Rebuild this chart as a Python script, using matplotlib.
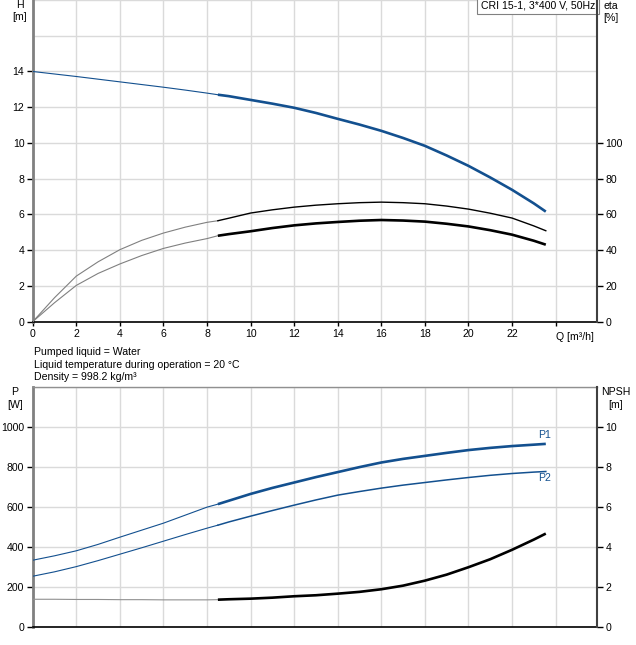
"""
Pump performance curves: CRI 15-1, 3*400 V, 50Hz
"""
import numpy as np
import matplotlib.pyplot as plt
from matplotlib.ticker import MultipleLocator, FixedLocator

################################################################################
# Data
################################################################################
Q_SPLIT     = 8.5       # thin curve below, thick curve above

q_h         = [0, 1, 2, 3, 4, 5, 6, 7, 8, 8.5, 9, 10, 11, 12, 13, 14, 15, 16,
               17, 18, 19, 20, 21, 22, 23, 23.55]
head        = [14.0, 13.86, 13.72, 13.57, 13.42, 13.27, 13.12, 12.96, 12.79,
               12.7, 12.62, 12.41, 12.2, 11.97, 11.68, 11.35, 11.03, 10.68,
               10.28, 9.84, 9.3, 8.72, 8.07, 7.38, 6.62, 6.16]

q_eta       = [0, 1, 2, 3, 4, 5, 6, 7, 8, 8.5, 9, 10, 11, 12, 13, 14, 15, 16,
               17, 18, 19, 20, 21, 22, 23, 23.55]
eta_pump    = [0, 13.4, 25.5, 33.5, 40.3, 45.5, 49.6, 52.9, 55.6, 56.5, 57.9,
               60.8, 62.6, 64.1, 65.2, 66.0, 66.6, 66.9, 66.6, 66.0, 64.7,
               63.0, 60.7, 58.0, 53.6, 50.9]
eta_total   = [0, 10.6, 20.3, 27.0, 32.3, 37.0, 41.0, 44.0, 46.5, 48.1, 49.0,
               50.6, 52.4, 53.9, 55.0, 55.8, 56.5, 56.9, 56.6, 56.0, 54.8,
               53.3, 51.2, 48.7, 45.3, 43.1]

q_p         = [0, 1, 2, 3, 4, 5, 6, 7, 8, 8.5, 9, 10, 11, 12, 13, 14, 15, 16,
               17, 18, 19, 20, 21, 22, 23, 23.55]
p1          = [335, 357, 382, 414, 450, 485, 520, 560, 600, 615, 632, 666, 696,
               723, 750, 775, 800, 823, 841, 856, 871, 885, 896, 905, 912, 916]
p2          = [255, 277, 303, 333, 365, 397, 430, 463, 495, 510, 526, 555, 583,
               610, 636, 660, 678, 695, 710, 723, 736, 748, 759, 768, 775, 778]
npsh        = [1.40, 1.40, 1.39, 1.39, 1.38, 1.38, 1.37, 1.37, 1.37, 1.38,
               1.40, 1.43, 1.48, 1.55, 1.60, 1.68, 1.77, 1.90, 2.08, 2.33,
               2.63, 3.00, 3.40, 3.87, 4.38, 4.68]

info_lines  = ["Pumped liquid = Water",
               "Liquid temperature during operation = 20 \u00b0C",
               "Density = 998.2 kg/m\u00b3"]
title_box   = "CRI 15-1, 3*400 V, 50Hz"

################################################################################
# Style
################################################################################
plt.rcParams['font.family'] = ['Liberation Sans', 'DejaVu Sans']
FS          = 7.6
BLUE        = '#13508f'
GRID        = '#dadada'
THICK       = 1.9
THIN        = 0.8

W, H        = 636, 645
XMAX        = 25.9


def split(q, v):
    q = np.asarray(q, float)
    v = np.asarray(v, float)
    lo = q <= Q_SPLIT
    hi = q >= Q_SPLIT
    return (q[lo], v[lo]), (q[hi], v[hi])


def style_axes(ax, ymax):
    ax.set_xlim(0, XMAX)
    ax.set_ylim(0, ymax)
    ax.xaxis.set_major_locator(MultipleLocator(2))
    ax.grid(True, which='both', color=GRID, lw=1.0, zorder=0)
    ax.set_axisbelow(True)
    ax.spines['left'].set_color('#808080')
    ax.spines['left'].set_linewidth(2.0)
    ax.spines['bottom'].set_color('black')
    ax.spines['bottom'].set_linewidth(1.2)
    ax.tick_params(axis='y', labelsize=FS, length=4, pad=2, width=1)


fig = plt.figure(figsize=(W / 100, H / 100), dpi=100)

########################################
# Top panel: head and efficiency
########################################
ax1 = fig.add_axes([32.7 / W, 1 - 321.7 / H, (597 - 32.7) / W, 321.7 / H])
style_axes(ax1, 18)
ax1.yaxis.set_major_locator(FixedLocator(np.arange(0, 15, 2)))
ax1.yaxis.set_minor_locator(FixedLocator([16, 18]))
ax1.tick_params(axis='y', which='minor', length=0)
ax1.xaxis.set_major_locator(FixedLocator(np.arange(0, 25, 2)))
ax1.set_xticklabels([str(v) for v in range(0, 23, 2)] + [''])
ax1.tick_params(axis='x', labelsize=FS, length=3, pad=2, width=1)
ax1.spines['top'].set_visible(False)
ax1.spines['right'].set_visible(False)
ax1.text(24.0, -0.6, "Q [m\u00b3/h]", fontsize=FS, ha='left', va='top')

ax1r = ax1.twinx()
ax1r.set_ylim(0, 180)
ax1r.yaxis.set_major_locator(FixedLocator(np.arange(0, 101, 20)))
ax1r.tick_params(axis='y', labelsize=FS, length=4, pad=2, width=1)
ax1r.spines['right'].set_color('#404040')
ax1r.spines['right'].set_linewidth(1.5)
for s in ['top', 'left', 'bottom']:
    ax1r.spines[s].set_visible(False)

(a, b) = split(q_h, head)
ax1.plot(*a, color=BLUE, lw=THIN, zorder=3)
ax1.plot(*b, color=BLUE, lw=THICK, zorder=3, solid_capstyle='butt')

(a, b) = split(q_eta, eta_pump)
ax1r.plot(*a, color='#808080', lw=THIN)
ax1r.plot(*b, color='black', lw=1.0)

(a, b) = split(q_eta, eta_total)
ax1r.plot(*a, color='#808080', lw=THIN)
ax1r.plot(*b, color='black', lw=THICK, solid_capstyle='butt')

ax1.text(0.997, 0.999, title_box, transform=ax1.transAxes, fontsize=FS,
         ha='right', va='top', zorder=5,
         bbox=dict(boxstyle='square,pad=0.35', fc='white', ec='#808080', lw=0.8))

########################################
# Bottom panel: power and NPSH
########################################
ax2 = fig.add_axes([32.7 / W, 1 - 627.3 / H, (597 - 32.7) / W, (627.3 - 387) / H])
style_axes(ax2, 1200)
ax2.yaxis.set_major_locator(FixedLocator(np.arange(0, 1001, 200)))
ax2.yaxis.set_minor_locator(FixedLocator([1200]))
ax2.tick_params(axis='y', which='minor', length=0)
ax2.tick_params(axis='x', length=0, labelbottom=False)
ax2.spines['top'].set_color('#909090')
ax2.spines['top'].set_linewidth(1.0)
ax2.spines['right'].set_visible(False)

ax2r = ax2.twinx()
ax2r.set_ylim(0, 12)
ax2r.yaxis.set_major_locator(FixedLocator(np.arange(0, 11, 2)))
ax2r.tick_params(axis='y', labelsize=FS, length=4, pad=2, width=1)
ax2r.spines['right'].set_color('#404040')
ax2r.spines['right'].set_linewidth(1.5)
for s in ['top', 'left', 'bottom']:
    ax2r.spines[s].set_visible(False)

(a, b) = split(q_p, p1)
ax2.plot(*a, color=BLUE, lw=THIN, zorder=3)
ax2.plot(*b, color=BLUE, lw=THICK, zorder=3, solid_capstyle='butt')

(a, b) = split(q_p, p2)
ax2.plot(*a, color=BLUE, lw=THIN, zorder=3)
ax2.plot(*b, color=BLUE, lw=1.1, zorder=3)

(a, b) = split(q_p, npsh)
ax2r.plot(*a, color='#909090', lw=THIN)
ax2r.plot(*b, color='black', lw=THICK, solid_capstyle='butt')

ax2.text(23.5, 961, "P1", color=BLUE, fontsize=FS, ha='center', va='center')
ax2.text(23.5, 748, "P2", color=BLUE, fontsize=FS, ha='center', va='center')

########################################
# Axis titles and notes
########################################
def ftext(x, y, s, **kw):
    fig.text(x / W, 1 - y / H, s, fontsize=FS, va='center', **kw)

ftext(20, 5, "H", ha='center')
ftext(20, 17, "[m]", ha='center')
ftext(603, 6, "eta", ha='left')
ftext(603, 18, "[%]", ha='left')
ftext(15, 392, "P", ha='center')
ftext(15, 405, "[W]", ha='center')
ftext(616, 392, "NPSH", ha='center')
ftext(616, 405, "[m]", ha='center')

for i, line in enumerate(info_lines):
    ftext(34, 352 + i * 12.5, line, ha='left')

fig.savefig("out.png", dpi=100)
